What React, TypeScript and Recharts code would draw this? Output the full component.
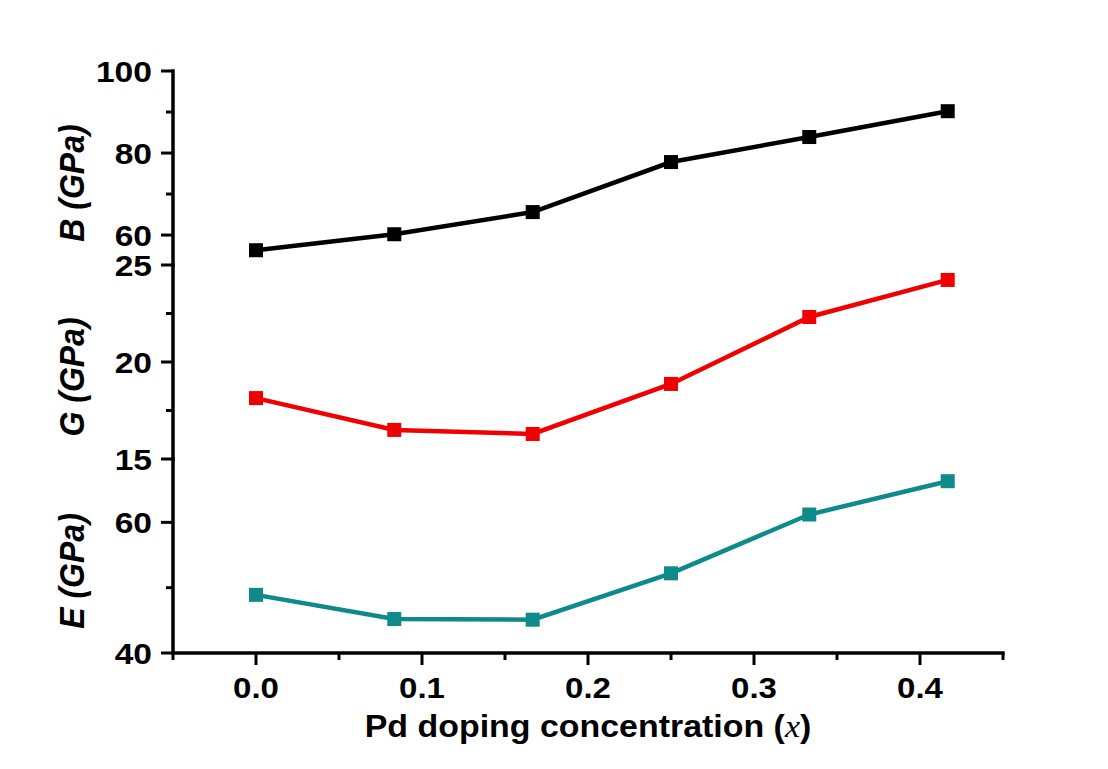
import { LineChart, Line, XAxis, YAxis, Label } from "recharts";

// Pd content x = 0, 1/12, 2/12 ... 5/12
const xValues = [0, 0.0833, 0.1667, 0.25, 0.3333, 0.4167];
const bulkB = [56.3, 60.2, 65.6, 77.8, 83.9, 90.2];
const shearG = [18.14, 16.5, 16.29, 18.87, 22.32, 24.23];
const youngE = [48.9, 45.2, 45.1, 52.2, 61.2, 66.3];

const xTicks = [-0.05, 0, 0.05, 0.1, 0.15, 0.2, 0.25, 0.3, 0.35, 0.4, 0.45];
const xMajor = [0, 0.1, 0.2, 0.3, 0.4];
const bTicks = [60, 70, 80, 90, 100];
const bMajor = [60, 80, 100];
const gTicks = [15, 17.5, 20, 22.5, 25];
const gMajor = [15, 20, 25];
const eTicks = [40, 50, 60];
const eMajor = [40, 60];

const W = 1108;
const H = 769;
const FONT = "'Liberation Sans', Arial, sans-serif";
const xDomain: [number, number] = [-0.05, 0.45];
// the source image is a bit wider than tall, text looks stretched
const SX = 1.12;

const rows = xValues.map((x, i) => ({ x, B: bulkB[i], G: shearG[i], E: youngE[i] }));

const isIn = (arr: number[], v: number) => arr.some(a => Math.abs(a - v) < 1e-6);

function makeYTick(major: number[]) {
    return (props: any) => {
        const { x, y, payload } = props;
        const big = isIn(major, payload.value);
        return (
            <g>
                <line x1={x} x2={x - (big ? 12 : 7)} y1={y} y2={y} stroke="#000" strokeWidth={3} />
                {big && (
                    <text transform={`translate(${x - 21},${y}) scale(${SX},1)`} dy="0.36em" textAnchor="end"
                        fontFamily={FONT} fontWeight="bold" fontSize={30} fill="#000">
                        {payload.value}
                    </text>
                )}
            </g>
        );
    };
}

function XTick(props: any) {
    const { x, y, payload } = props;
    const big = isIn(xMajor, payload.value);
    return (
        <g>
            <line x1={x} x2={x} y1={y} y2={y + (big ? 12 : 7)} stroke="#000" strokeWidth={3} />
            {big && (
                <text transform={`translate(${x},${y + 45}) scale(1.1,1)`} textAnchor="middle"
                    fontFamily={FONT} fontWeight="bold" fontSize={30} fill="#000">
                    {payload.value.toFixed(1)}
                </text>
            )}
        </g>
    );
}

const square = (color: string) => (props: any) => {
    const { cx, cy, index } = props;
    return <rect key={index} x={cx - 7} y={cy - 7} width={14} height={14} fill={color} />;
};

function yTitle(letter: string) {
    return (props: any) => {
        const vb = props.viewBox;
        const cx = 71;
        const cy = vb.y + vb.height / 2 + 15;
        return (
            <text transform={`translate(${cx},${cy}) scale(${SX},1) rotate(-90)`} textAnchor="middle" dominantBaseline="central"
                fontFamily={FONT} fontWeight="bold" fontStyle="italic" fontSize={32} fill="#000">
                {letter} (GPa)
            </text>
        );
    };
}

function xTitle(props: any) {
    const vb = props.viewBox;
    return (
        <text transform={`translate(${vb.x + vb.width / 2},${vb.y + 84}) scale(1.06,1)`} textAnchor="middle"
            fontFamily={FONT} fontWeight="bold" fontSize={32} fill="#000">
            Pd doping concentration (<tspan fontFamily="'Liberation Serif', 'Times New Roman', serif" fontStyle="italic" fontWeight="normal">x</tspan>)
        </text>
    );
}

const frame = { stroke: "#000", strokeWidth: 3.5, strokeLinecap: "square" as const };
const divider = { stroke: "#000", strokeWidth: 2 };

type PanelProps = {
    dataKey: string;
    color: string;
    domain: [number, number];
    ticks: number[];
    major: number[];
    top: number;
    bottom: number;
    topLine: any;
    showX?: boolean;
};

function Panel({ dataKey, color, domain, ticks, major, top, bottom, topLine, showX }: PanelProps) {
    return (
        <div style={{ position: "absolute", left: 0, top: 0 }}>
            <LineChart width={W} height={H} data={rows} margin={{ top, right: 105, bottom, left: 93 }}>
                <XAxis xAxisId="b" dataKey="x" type="number" domain={xDomain} ticks={xTicks} allowDataOverflow
                    hide={!showX} height={100} axisLine={frame} tickLine={false} tickSize={0} tickMargin={0} tick={<XTick />} interval={0}>
                    {showX && <Label content={xTitle} />}
                </XAxis>
                <XAxis xAxisId="t" orientation="top" type="number" domain={xDomain} height={0} tick={false} tickLine={false} axisLine={topLine} />
                <YAxis yAxisId="l" type="number" domain={domain} ticks={ticks} allowDataOverflow width={80}
                    axisLine={frame} tickLine={false} tickSize={0} tickMargin={0} tick={makeYTick(major)} interval={0}>
                    <Label content={yTitle(dataKey)} />
                </YAxis>
                <YAxis yAxisId="r" orientation="right" type="number" domain={[0, 1]} width={0} tick={false} tickLine={false} axisLine={frame} />
                <Line xAxisId="b" yAxisId="l" type="linear" dataKey={dataKey} stroke={color} strokeWidth={4.5}
                    dot={square(color)} activeDot={false} isAnimationActive={false} />
            </LineChart>
        </div>
    );
}

export default function App() {
    return (
        <div style={{ position: "absolute", left: 0, top: 0, width: W, height: H, background: "#fff" }}>
            <Panel dataKey="B" color="#000000" domain={[52.7, 100]} ticks={bTicks} major={bMajor} top={71} bottom={H - 265} topLine={frame} />
            <Panel dataKey="G" color="#f00000" domain={[15, 25]} ticks={gTicks} major={gMajor} top={265} bottom={H - 459} topLine={divider} />
            <Panel dataKey="E" color="#0e8a8a" domain={[40, 69.7]} ticks={eTicks} major={eMajor} top={459} bottom={H - 653 - 100} topLine={divider} showX />
        </div>
    );
}
